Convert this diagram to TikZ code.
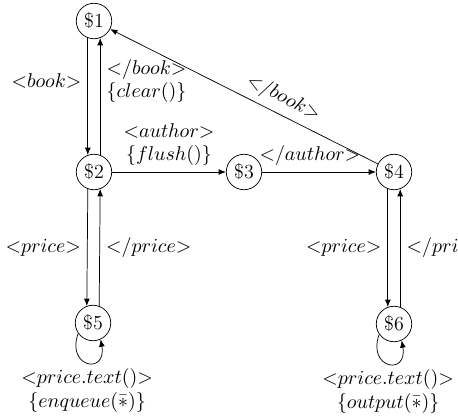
\documentclass[tikz,border=0pt]{standalone}
\usetikzlibrary{arrows.meta}
\begin{document}
\begin{tikzpicture}[x=0.55pt,y=-0.55pt,>={Latex[length=4pt,width=3.2pt]},
    every node/.style={font=\fontsize{11}{12.7}\selectfont},
    st/.style={circle,draw,minimum size=19.5pt,inner sep=0pt},
    lab/.style={align=center}]
  \useasboundingbox (0,0) rectangle (458,418);

  \node[st] (s1) at (94,21) {\$1};
  \node[st] (s2) at (94,172) {\$2};
  \node[st] (s3) at (244,172) {\$3};
  \node[st] (s4) at (394,172) {\$4};
  \node[st] (s5) at (93,323) {\$5};
  \node[st] (s6) at (394,324) {\$6};

  \draw[->] (s1.250) to node[pos=0.37,left]{${<}book{>}$} (s2.110);
  \draw[->] (s2.70) to
       node[pos=0.63,right,lab]{${<}/book{>}$\\$\{clear()\}$} (s1.290);
  \draw[->] (s2) to
       node[pos=0.5,above,lab]{${<}author{>}$\\$\{flush()\}$} (s3);
  \draw[->] (s3) to node[pos=0.42,above]{${<}/author{>}$} (s4);
  \draw[->] (s4) to node[pos=0.38,above,sloped]{${<}/book{>}$} (s1);

  \draw[->] (s2.250) to node[pos=0.5,left]{${<}price{>}$} (s5.110);
  \draw[->] (s5.70) to node[pos=0.5,right]{${<}/price{>}$} (s2.290);
  \draw[->] (s4.250) to node[pos=0.5,left]{${<}price{>}$} (s6.110);
  \draw[->] (s6.70) to node[pos=0.5,right]{${<}/price{>}$} (s4.290);

  \draw[->] (s5.215) to[out=250,in=-80,looseness=4]
       node[below,lab]{${<}price.text(){>}$\\$\{enqueue(\bar{*})\}$} (s5.-65);
  \draw[->] (s6.215) to[out=250,in=-80,looseness=4]
       node[below,lab]{${<}price.text(){>}$\\$\{output(\bar{*})\}$} (s6.-65);

\end{tikzpicture}
\end{document}
